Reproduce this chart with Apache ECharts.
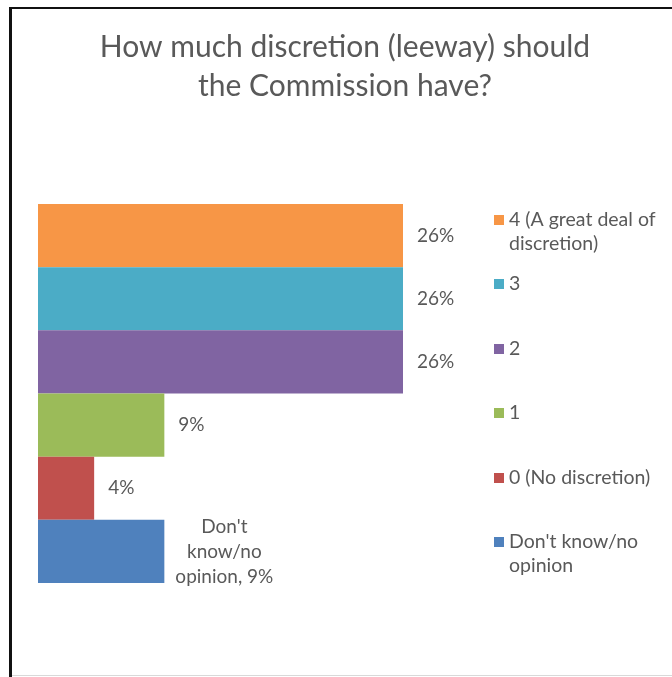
<!DOCTYPE html>
<html>
<head>
<meta charset="utf-8">
<script src="https://cdn.jsdelivr.net/npm/echarts@6/dist/echarts.min.js"></script>
<style>
  html, body { margin: 0; padding: 0; background: #fff; }
  #chart { width: 672px; height: 677px; }
</style>
</head>
<body>
<div id="chart"></div>
<script>
// Survey answers, one bar per answer, top to bottom
const categories = ['4 (A great deal of discretion)', '3', '2', '1', '0 (No discretion)', "Don't know/no opinion"];
const shares = [26, 26, 26, 9, 4, 9];
const colors = ['#F79646', '#4BACC6', '#8064A2', '#9BBB59', '#C0504D', '#4F81BD'];
// Legend text with its line breaks
const legendText = ['4 (A great deal of\ndiscretion)', '3', '2', '1', '0 (No discretion)', "Don't know/no\nopinion"];
// Bar label text
const labelText = ['26%', '26%', '26%', '9%', '4%', "Don't\nknow/no\nopinion, 9%"];

const FONT = 'Lato';
const TEXT = '#595959';

const chart = echarts.init(document.getElementById('chart'));

const series = categories.map((name, i) => {
  const data = categories.map((c, j) => (j === i ? shares[i] : null));
  const last = i === categories.length - 1;
  return {
    name: name,
    type: 'bar',
    stack: 'all',
    barWidth: '100%',
    itemStyle: { color: colors[i] },
    emphasis: { disabled: true },
    label: {
      show: true,
      position: 'right',
      distance: last ? 60 : 14,
      align: last ? 'center' : 'left',
      formatter: () => labelText[i],
      fontFamily: FONT,
      fontSize: 19,
      lineHeight: 25,
      color: TEXT
    },
    data: data
  };
});

// One legend block per answer so each row lines up with its bar.
// Two-line entries get a blank leading line so the swatch sits beside the first line.
const legendCenters = [220, 284, 349, 413, 478, 542];
const legends = categories.map((name, i) => {
  const multi = legendText[i].indexOf('\n') >= 0;
  return {
    orient: 'vertical',
    left: 494,
    top: legendCenters[i] - (multi ? 36 : 12),
    padding: 0,
    itemWidth: 10,
    itemHeight: 10,
    icon: 'rect',
    selectedMode: false,
    formatter: () => (multi ? '\n' : '') + legendText[i],
    textStyle: {
      fontFamily: FONT,
      fontSize: 19.5,
      lineHeight: 24,
      color: TEXT
    },
    data: [name]
  };
});

chart.setOption({
  animation: false,
  title: {
    text: 'How much discretion (leeway) should\nthe Commission have?',
    left: 345,
    textAlign: 'center',
    top: 28,
    padding: 0,
    textStyle: {
      fontFamily: FONT,
      fontSize: 30,
      fontWeight: 'normal',
      lineHeight: 39,
      color: TEXT
    }
  },
  legend: legends,
  grid: { left: 38, top: 204, width: 365, height: 379 },
  xAxis: {
    type: 'value',
    min: 0,
    max: 26,
    show: false
  },
  yAxis: {
    type: 'category',
    data: categories,
    inverse: true,
    show: false
  },
  series: series,
  graphic: [
    // frame: heavy left and top edges, faint bottom edge
    { type: 'rect', shape: { x: 9, y: 7, width: 3, height: 670 }, style: { fill: '#111' } },
    { type: 'rect', shape: { x: 9, y: 7, width: 663, height: 2 }, style: { fill: '#111' } },
    { type: 'rect', shape: { x: 12, y: 675, width: 660, height: 1 }, style: { fill: '#d9d9d9' } }
  ]
});
</script>
</body>
</html>
